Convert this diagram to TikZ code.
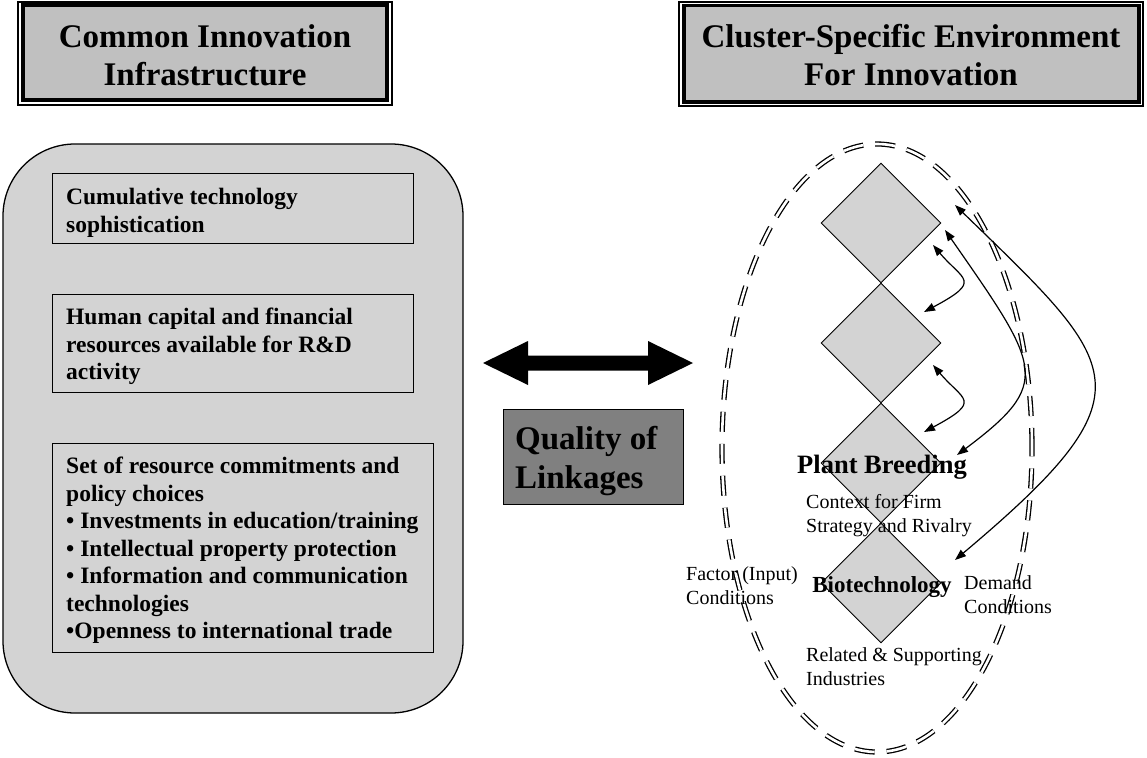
\documentclass[tikz,border=0pt]{standalone}
\usepackage{fontspec}
\setmainfont{Liberation Serif}
\usetikzlibrary{arrows.meta,shapes.geometric}
\definecolor{hdrgray}{RGB}{192,192,192}
\definecolor{boxgray}{RGB}{211,211,211}
\definecolor{qgray}{RGB}{128,128,128}
\begin{document}
\begin{tikzpicture}[x=1pt,y=-1pt,
  hdrout/.style={draw, line width=1.2pt, inner sep=0},
  hdrin/.style={draw, line width=3.5pt, fill=hdrgray, inner sep=0},
  hdrtext/.style={align=center, inner sep=0, font=\fontsize{33}{38}\selectfont\bfseries},
  bigbox/.style={draw, line width=1.3pt, fill=boxgray, rounded corners=72pt, inner sep=0},
  itembox/.style={draw, line width=1pt, inner sep=0},
  itemtext/.style={align=left, anchor=north west, inner sep=0, font=\fontsize{23.5}{27.5}\selectfont\bfseries},
  qbox/.style={draw, line width=1pt, fill=qgray, inner sep=0},
  qtext/.style={align=left, anchor=north west, inner sep=0, font=\fontsize{33}{39}\selectfont\bfseries},
  dia/.style={diamond, draw, line width=0.9pt, fill=boxgray, minimum width=120pt, minimum height=120pt, inner sep=0},
  cluster/.style={ellipse, draw, line width=1.3pt, double=white, double distance=2.6pt, dash pattern=on 20pt off 12pt, minimum width=310pt, minimum height=608pt, inner sep=0},
  lbl/.style={align=left, anchor=north west, inner sep=0, font=\fontsize{20}{24}\selectfont},
  arr/.style={line width=1.2pt, <->, >={Triangle[length=11pt,width=8pt]}},
  blockarrow/.style={fill=black}
]
\useasboundingbox (0,0) rectangle (1147,757);

% ---------- headers ----------
\node[hdrout, minimum width=374pt, minimum height=103pt] (h1o) at (205,53.5) {};
\node[hdrin, minimum width=364pt, minimum height=95pt] (h1) at (205,52.5) {};
\node[hdrtext] (h1t) at (205,55) {Common Innovation\\Infrastructure};

\node[hdrout, minimum width=464pt, minimum height=104pt] (h2o) at (911,54) {};
\node[hdrin, minimum width=455pt, minimum height=96.5pt] (h2) at (911.5,53.75) {};
\node[hdrtext] (h2t) at (911,55) {Cluster-Specific Environment\\For Innovation};

% ---------- left: common innovation infrastructure ----------
\node[bigbox, minimum width=460pt, minimum height=569pt] (infra) at (233,428.5) {};
\node[itembox, minimum width=361pt, minimum height=70pt] (b1) at (232.5,208) {};
\node[itembox, minimum width=361pt, minimum height=98pt] (b2) at (232.5,343) {};
\node[itembox, minimum width=381pt, minimum height=209pt] (b3) at (242.5,547.5) {};
\node[itemtext] (t1) at (66,188) {Cumulative technology\\sophistication};
\node[itemtext] (t2) at (66,308) {Human capital and financial\\resources available for R\&D\\activity};
\node[itemtext] (t3) at (66,457) {Set of resource commitments and\\policy choices\\• Investments in education/training\\• Intellectual property protection\\• Information and communication\\technologies\\•Openness to international trade};

% ---------- middle ----------
\fill[blockarrow] (483,363) -- (528,341) -- (528,355.5) -- (648,355.5) -- (648,341)
  -- (693,363) -- (648,385) -- (648,370.5) -- (528,370.5) -- (528,385) -- cycle;
\node[qbox, minimum width=180pt, minimum height=95pt] (q) at (593,456.5) {};
\node[qtext] (qt) at (515,426) {Quality of\\Linkages};

% ---------- right: cluster ----------
\node[cluster] (cl) at (877,448) {};
\node[dia] (d1) at (881,223) {};
\node[dia] (d2) at (881,343) {};
\node[dia] (d3) at (881,463) {};
\node[dia] (d4) at (881,583) {};

\coordinate (a1s) at (933,245);
\coordinate (a1e) at (924,312);
\coordinate (a2s) at (933,365);
\coordinate (a2e) at (924,432);
\coordinate (a3s) at (945,230);
\coordinate (a3e) at (957,455);
\coordinate (a4s) at (955,205);
\coordinate (a4e) at (955,560);
\draw[arr] (a1s) .. controls (963,280.5) and (983,280.5) .. (a1e);
\draw[arr] (a2s) .. controls (963,400.5) and (983,400.5) .. (a2e);
\draw[arr] (a3s) .. controls (1041,368) and (1053,383) .. (a3e);
\draw[arr] (a4s) .. controls (1122,367) and (1156,391) .. (a4e);

\node[anchor=base, inner sep=0, font=\fontsize{26.5}{30}\selectfont\bfseries] (pb) at (882,473) {Plant Breeding};
\node[anchor=base, inner sep=0, font=\fontsize{23}{27}\selectfont\bfseries] (bt) at (882,592) {Biotechnology};
\node[lbl] (ctx) at (806,494) {Context for Firm\\Strategy and Rivalry};
\node[lbl] (fac) at (686,566) {Factor (Input)\\Conditions};
\node[lbl] (dem) at (964,575) {Demand\\Conditions};
\node[lbl] (rel) at (806,647) {Related \& Supporting\\Industries};
\end{tikzpicture}
\end{document}
